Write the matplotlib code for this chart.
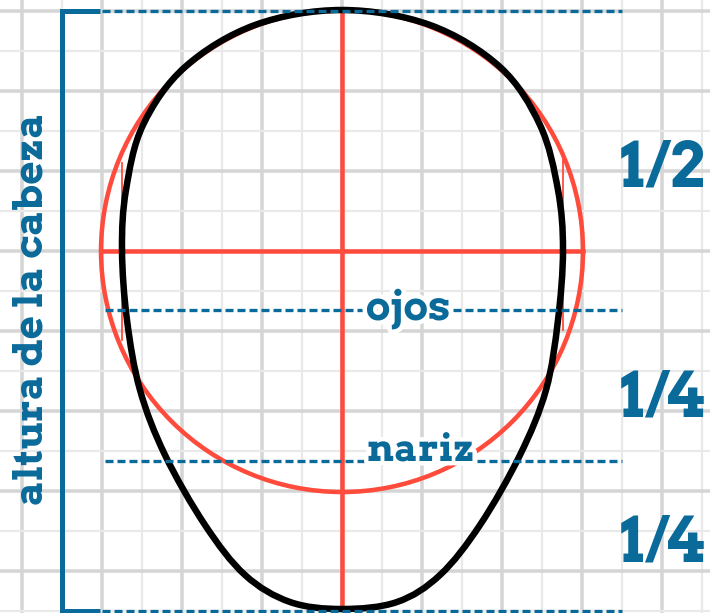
import matplotlib
matplotlib.use("Agg")
import matplotlib.pyplot as plt
import numpy as np
from matplotlib.path import Path
from matplotlib.patches import PathPatch, Circle
import matplotlib.patheffects as pe

# ---- data (pixel coordinates of the reference drawing) ----
head_x = [342, 430, 500, 540, 558, 563, 558, 546, 520, 480, 440, 397, 342,
          290, 245, 205, 165, 140, 127, 122, 126, 143, 185, 255]
head_y = [10, 25, 67, 125, 190, 250, 320, 390, 455, 525, 575, 602, 609,
          602, 575, 525, 455, 390, 320, 250, 190, 125, 67, 25]
circle_center = (342, 251)
circle_radius = 241
guide_levels = {"top": 11, "ojos": 310, "nariz": 461, "bottom": 611}
fraction_labels = ["1/2", "1/4", "1/4"]
fraction_y = [163, 393, 538]
side_label = "altura de la cabeza"

BLUE = "#0a6a99"
RED = "#ff4b3c"
W, H = 710, 613
fig = plt.figure(figsize=(W / 100, H / 100), dpi=100)
ax = fig.add_axes([0, 0, 1, 1])
ax.set_xlim(0, W)
ax.set_ylim(H, 0)
ax.axis("off")
px = 72 / 100  # points per pixel

# grid
for k, x in enumerate(range(22, W, 40)):
    thick = k % 2 == 0
    ax.axvline(x, color="#d5d5d5" if thick else "#e9e9e9", lw=(3.5 if thick else 2.2) * px, zorder=0)
for k, y in enumerate(range(11, H + 1, 40)):
    thick = k % 2 == 0
    ax.axhline(y, color="#d5d5d5" if thick else "#e9e9e9", lw=(3.5 if thick else 2.2) * px, zorder=0)

# red guides
cx, cy = circle_center
ax.add_patch(Circle(circle_center, circle_radius, fill=False, ec=RED, lw=4.5 * px, zorder=2))
ax.plot([cx, cx], [11, 610], color=RED, lw=4.5 * px, zorder=2, solid_capstyle="butt")
ax.plot([cx - circle_radius, cx + circle_radius], [cy, cy], color=RED, lw=4.5 * px, zorder=2)
ax.plot([563, 563], [160, 330], color=RED, lw=1.8 * px, zorder=2)
ax.plot([122, 122], [163, 340], color=RED, lw=1.8 * px, zorder=2)

# head outline: closed Catmull-Rom spline through the read points, as cubic Bezier path
pts = np.column_stack([head_x, head_y]).astype(float)
n = len(pts)
verts = [pts[0]]
codes = [Path.MOVETO]
for i in range(n):
    p0, p1, p2, p3 = pts[i - 1], pts[i], pts[(i + 1) % n], pts[(i + 2) % n]
    c1 = p1 + (p2 - p0) / 6
    c2 = p2 - (p3 - p1) / 6
    verts += [c1, c2, p2]
    codes += [Path.CURVE4] * 3
ax.add_patch(PathPatch(Path(verts, codes), fill=False, ec="black", lw=6.5 * px, zorder=3,
                       joinstyle="round"))

# blue bracket and guides
ax.plot([100, 62, 62, 100], [11, 11, 611, 611], color=BLUE, lw=5 * px, zorder=4,
        solid_joinstyle="miter", solid_capstyle="butt")
dash_kw = dict(color=BLUE, lw=3.3 * px, zorder=4, dashes=(8 / 3.3, 4 / 3.3))
ax.plot([102, 622], [guide_levels["top"]] * 2, **dash_kw)
ax.plot([102, 622], [guide_levels["bottom"]] * 2, **dash_kw)
ax.plot([105, 622], [guide_levels["ojos"]] * 2, **dash_kw)
ax.plot([105, 622], [guide_levels["nariz"]] * 2, **dash_kw)

FONT = dict(family=["Arvo", "DejaVu Serif"], weight="bold", color=BLUE)
halo = [pe.withStroke(linewidth=9 * px, foreground="white")]
fig.canvas.draw()
r = fig.canvas.get_renderer()

def fit(t, target, horizontal=True):
    bb = t.get_window_extent(r)
    cur = bb.width if horizontal else bb.height
    t.set_fontsize(t.get_fontsize() * target / cur)

t1 = ax.text(408, 320, "ojos", ha="center", va="baseline", fontsize=20, zorder=5, path_effects=halo, **FONT)
fit(t1, 85)
t2 = ax.text(421, 461, "nariz", ha="center", va="baseline", fontsize=20, zorder=5, path_effects=halo, **FONT)
fit(t2, 108)
for lab, y in zip(fraction_labels, fraction_y):
    t = ax.text(663, y, lab, ha="center", va="center_baseline", fontsize=30, zorder=5, **FONT)
    fit(t, 86)
ts = ax.text(43, 309, side_label, ha="center", va="baseline", rotation=90, fontsize=20,
             rotation_mode="anchor", zorder=5, **FONT)
fit(ts, 392, horizontal=False)

fig.savefig("out.png", dpi=100, facecolor="white")
